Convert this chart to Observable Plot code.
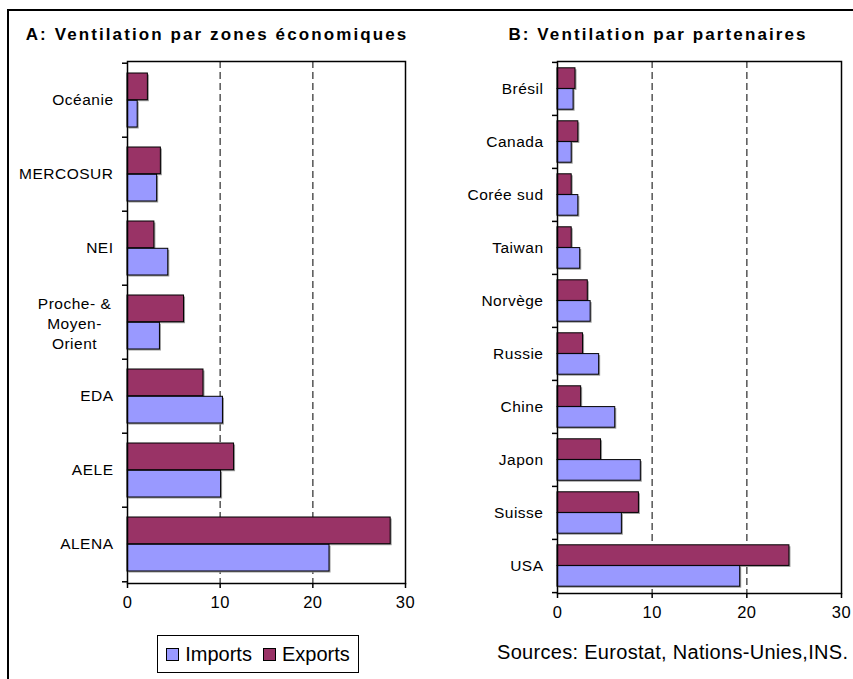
<!DOCTYPE html>
<html><head><meta charset="utf-8">
<script src="https://cdn.jsdelivr.net/npm/d3@7"></script>
<script src="https://cdn.jsdelivr.net/npm/@observablehq/plot@0.6"></script>
<style>
body{margin:0;background:#fff;font-family:"Liberation Sans",Arial,sans-serif;color:#000;}
#wrap{position:relative;width:853px;height:679px;overflow:hidden;background:#fff;}
#frame{position:absolute;left:7px;top:9px;width:900px;height:700px;border:2px solid #000;box-sizing:border-box;}
.title{position:absolute;top:25px;font-weight:bold;font-size:17px;letter-spacing:2.1px;white-space:nowrap;transform:translateX(-50%);line-height:20px;}
#pa{position:absolute;left:0;top:0;}
#pb{position:absolute;left:430px;top:0;}
#legend{position:absolute;left:157px;top:635px;width:202px;height:38px;border:1.5px solid #000;box-sizing:border-box;background:#fff;display:flex;align-items:center;justify-content:center;font-size:20px;white-space:nowrap;}
.sw{display:inline-block;width:11px;height:11px;border:1px solid #000;margin-right:6px;}
#src{position:absolute;left:497px;top:640px;font-size:20px;letter-spacing:0.3px;white-space:nowrap;line-height:24px;}
</style></head>
<body><div id="wrap">
<div id="frame"></div>
<div class="title" id="ta" style="left:217px">A: Ventilation par zones économiques</div>
<div class="title" id="tb" style="left:658px">B: Ventilation par partenaires</div>
<div id="pa"></div>
<div id="pb"></div>
<div id="legend"></div>
<div id="src"></div>
</div>
<script>
const zones = ["Océanie", "MERCOSUR", "NEI", "Proche- &\nMoyen-\nOrient", "EDA", "AELE", "ALENA"];
const zoneImports = [1.1, 3.2, 4.4, 3.5, 10.3, 10.1, 21.8];
const zoneExports = [2.2, 3.6, 2.9, 6.1, 8.2, 11.5, 28.4];
const partners = ["Brésil", "Canada", "Corée sud", "Taiwan", "Norvège", "Russie", "Chine", "Japon", "Suisse", "USA"];
const partnerImports = [1.7, 1.5, 2.2, 2.4, 3.5, 4.4, 6.1, 8.8, 6.8, 19.3];
const partnerExports = [1.9, 2.2, 1.5, 1.5, 3.2, 2.7, 2.5, 4.6, 8.6, 24.5];
const xTicks = [0, 10, 20, 30];
const seriesNames = ["Imports", "Exports"];
const seriesColors = ["#9999FF", "#993366"];
const sourceText = "Sources: Eurostat, Nations-Unies,INS.";

function panel(cats, imp, exp, o) {
  const n = cats.length;
  const plotH = o.height - o.marginTop - o.marginBottom;
  const half = plotH / n / 2;
  const rowsE = cats.map((c, i) => ({cat: c, v: exp[i]}));
  const rowsI = cats.map((c, i) => ({cat: c, v: imp[i]}));
  const multi = cats.filter(c => c.includes("\n"));
  const font = "'Liberation Sans', Arial, sans-serif";
  return Plot.plot({
    width: o.width, height: o.height,
    marginLeft: o.marginLeft, marginRight: o.marginRight,
    marginTop: o.marginTop, marginBottom: o.marginBottom,
    style: {fontFamily: font, fontSize: "15.5px", color: "#000", background: "transparent", overflow: "visible", letterSpacing: "0.5px"},
    x: {domain: [xTicks[0], xTicks[xTicks.length - 1]]},
    y: {domain: cats, paddingInner: 0, paddingOuter: 0, label: null},
    marks: [
      Plot.gridX(xTicks.slice(1, -1), {stroke: "#555", strokeOpacity: 1, strokeWidth: 1.5, strokeDasharray: "7,4"}),
      Plot.barX(rowsE, {x: "v", y: "cat", fill: "#999", dx: 1.5, dy: 1.5, insetTop: o.pad, insetBottom: half}),
      Plot.barX(rowsI, {x: "v", y: "cat", fill: "#999", dx: 1.5, dy: 1.5, insetTop: half, insetBottom: o.pad}),
      Plot.barX(rowsE, {x: "v", y: "cat", fill: seriesColors[1], stroke: "#000", strokeWidth: 1, insetTop: o.pad, insetBottom: half}),
      Plot.barX(rowsI, {x: "v", y: "cat", fill: seriesColors[0], stroke: "#000", strokeWidth: 1, insetTop: half, insetBottom: o.pad}),
      Plot.frame({stroke: "#000", strokeWidth: 1.5}),
      Plot.ruleY(cats, {y: d => d, dy: -half, x1: 0, x2: 0, insetLeft: -5, stroke: "#000", strokeWidth: 1.5}),
      Plot.ruleY([cats[n - 1]], {y: d => d, dy: half, x1: 0, x2: 0, insetLeft: -5, stroke: "#000", strokeWidth: 1.5}),
      Plot.axisX(xTicks, {tickSize: 5, tickPadding: 8, label: null, strokeWidth: 1.5, tickFormat: d => String(d), fontSize: 16.5}),
      Plot.axisY({tickSize: 0, tickPadding: o.labelPad, label: null, tickFormat: d => d.includes("\n") ? "" : d, fontSize: 15.5}),
      Plot.text(multi, {y: d => d, frameAnchor: "left", textAnchor: "middle", dx: -53, lineHeight: 1.3, fontSize: 15.5, fill: "#000"})
    ]
  });
}

document.getElementById("pa").appendChild(panel(zones, zoneImports, zoneExports,
  {width: 430, height: 630, marginLeft: 127, marginRight: 25, marginTop: 61, marginBottom: 47, pad: 10, labelPad: 14}));
document.getElementById("pb").appendChild(panel(partners, partnerImports, partnerExports,
  {width: 423, height: 640, marginLeft: 127, marginRight: 12, marginTop: 61, marginBottom: 47, pad: 5.8, labelPad: 14}));

const leg = document.getElementById("legend");
seriesNames.forEach((s, i) => {
  const sw = document.createElement("span"); sw.className = "sw"; sw.style.background = seriesColors[i];
  const t = document.createElement("span"); t.textContent = s; t.style.marginRight = i === 0 ? "11px" : "0";
  leg.appendChild(sw); leg.appendChild(t);
});
document.getElementById("src").textContent = sourceText;
</script>
</body></html>
